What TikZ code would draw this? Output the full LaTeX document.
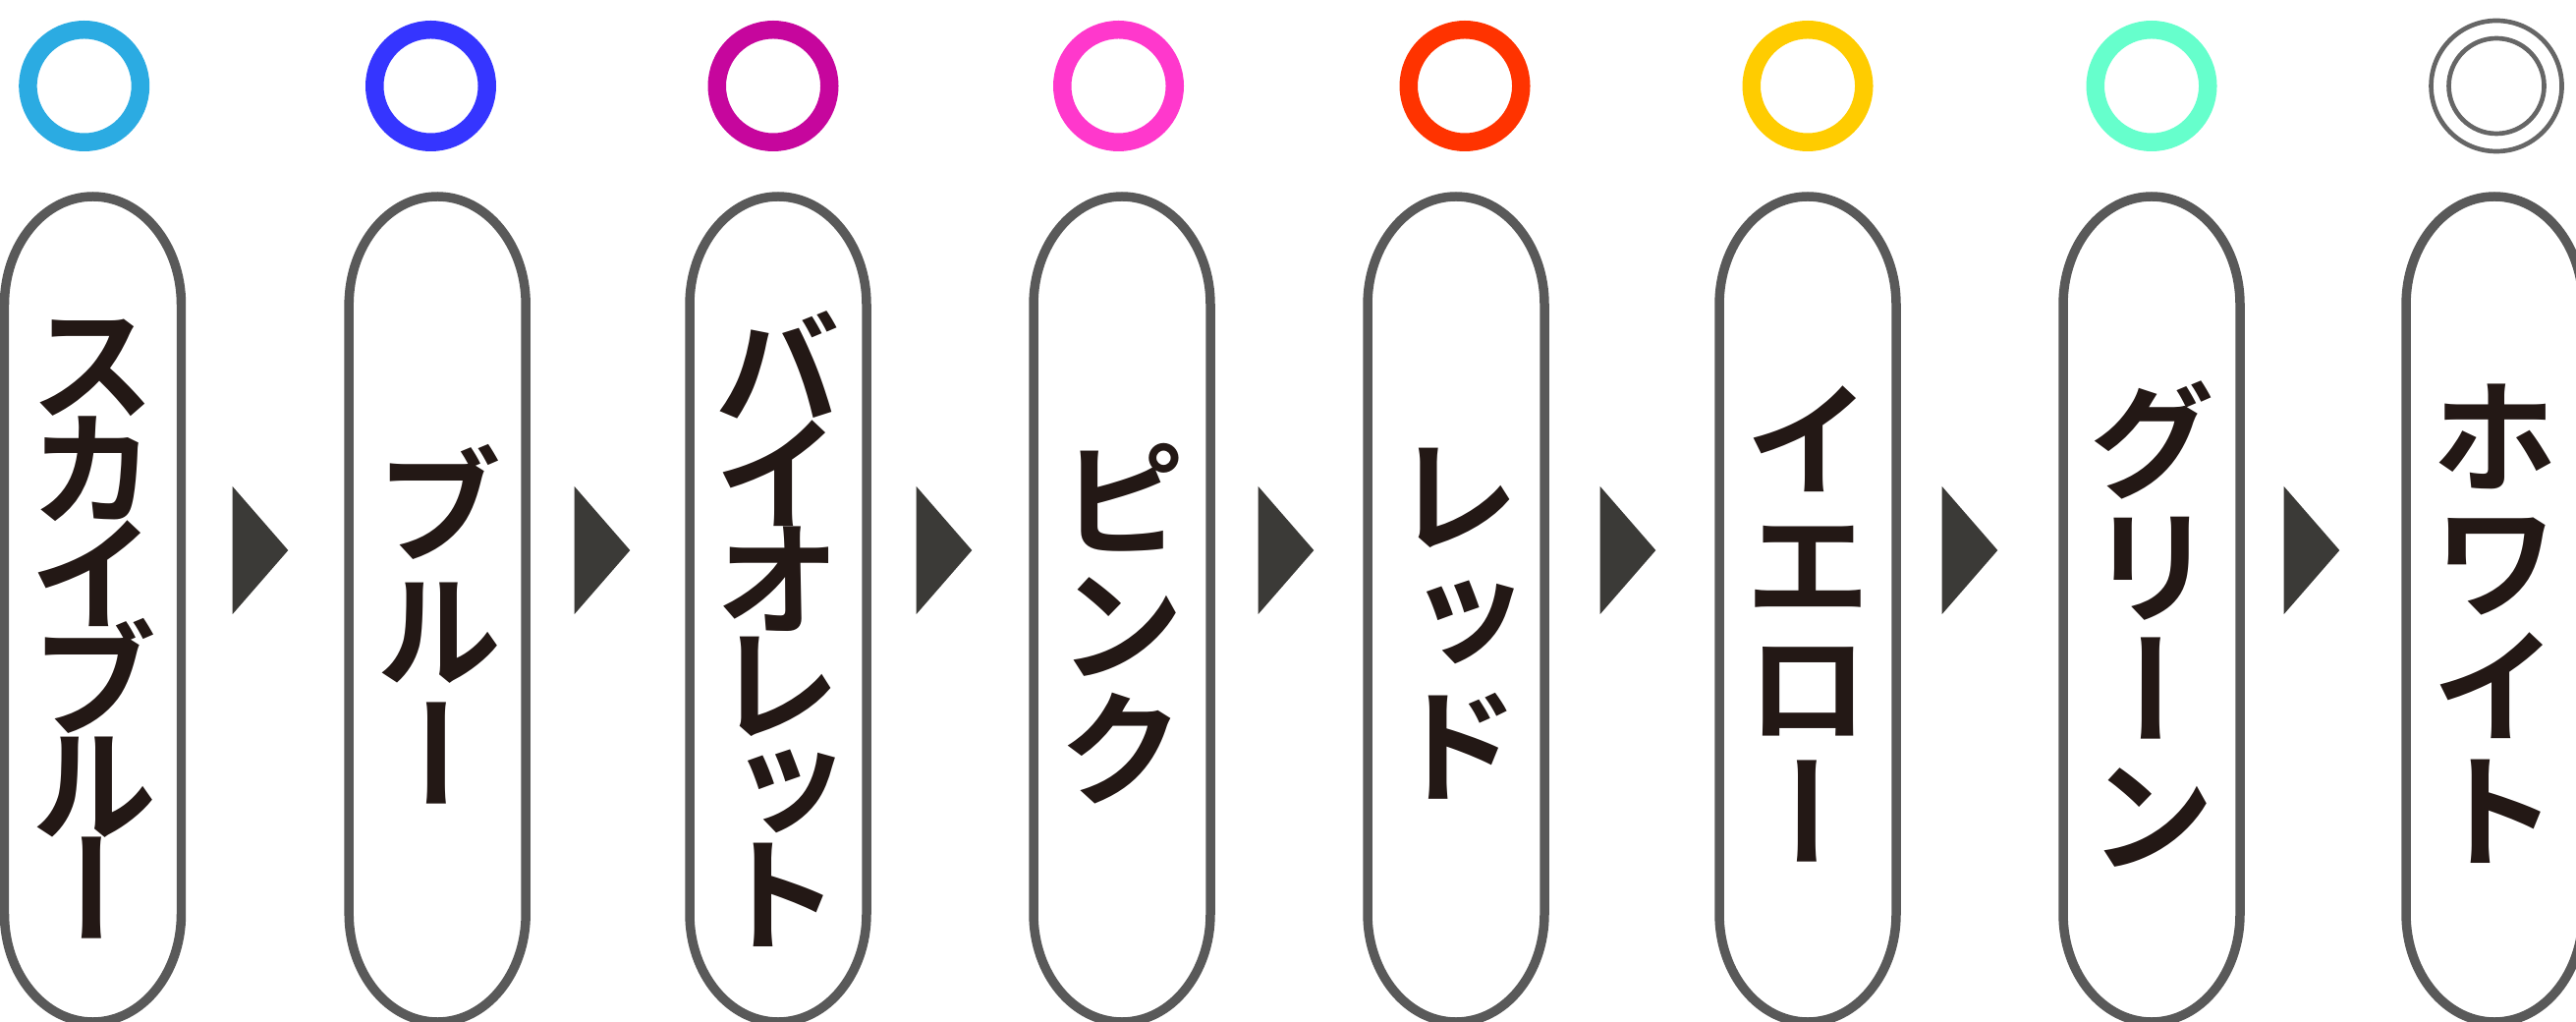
\documentclass[tikz,border=0pt]{standalone}
\usepackage{fontspec}
\newfontfamily\jpfont[RawFeature=+vert, UprightFont=* Bold]{Noto Sans CJK JP}
\newcommand\tatefont[2]{\jpfont\fontsize{#1}{#2}\selectfont\lineskiplimit=-100pt\lineskip=0pt\relax}
\definecolor{skyring}{HTML}{2BABE2}
\definecolor{bluering}{HTML}{3535FF}
\definecolor{violetring}{HTML}{C6069D}
\definecolor{pinkring}{HTML}{FF38CC}
\definecolor{redring}{HTML}{FF3300}
\definecolor{yellowring}{HTML}{FFCC00}
\definecolor{greenring}{HTML}{66FFCC}
\definecolor{whitering}{HTML}{666666}
\definecolor{capgray}{HTML}{595959}
\definecolor{markgray}{HTML}{3B3A37}
\definecolor{inkblack}{HTML}{231815}
\tikzset{
	ring/.style={line width=5.26pt},
	thinring/.style={draw=whitering, line width=1.33pt},
	capsule/.style={draw=capgray, line width=2.7pt},
	marker/.style={fill=markgray},
	tate/.style={text=inkblack, align=center, inner sep=0pt,
		font={\tatefont{37pt}{36.1pt}}},
	tatesix/.style={tate, font={\tatefont{37pt}{30.4pt}}}
}
\begin{document}
\begin{tikzpicture}
		\useasboundingbox (0,0) rectangle (26.22,10.39);
		\def\ry{9.515}
		\def\hw{0.9}
		\def\capr{1.1}
		
		% Кольца
		\draw[ring, skyring] (0.857,\ry) circle (0.5725);
		\draw[ring, bluering] (4.385,\ry) circle (0.5725);
		\draw[ring, violetring] (7.87,\ry) circle (0.5725);
		\draw[ring, pinkring] (11.385,\ry) circle (0.5725);
		\draw[ring, redring] (14.91,\ry) circle (0.5725);
		\draw[ring, yellowring] (18.40,\ry) circle (0.5725);
		\draw[ring, greenring] (21.90,\ry) circle (0.5725);
		\draw[thinring] (25.41,\ry) circle (0.665);
		\draw[thinring] (25.41,\ry) circle (0.485);
		
		% Капсулы
		\foreach \xc in {0.945,4.452,7.92,11.42,14.82,18.40,21.90,25.39}
			\draw[capsule] (\xc-\hw,7.29) -- (\xc-\hw,1.09)
				arc[start angle=180, end angle=360, x radius=\hw, y radius=\capr]
				-- (\xc+\hw,7.29)
				arc[start angle=0, end angle=180, x radius=\hw, y radius=\capr] -- cycle;
		
		% Надписи
		\node[tatesix] (skyblue) at (0.945,3.99) {ス\\カ\\イ\\ブ\\ル\\ー};
		\node[tate] (blue) at (4.452,4.04) {ブ\\ル\\ー};
		\node[tatesix] (violet) at (7.92,3.99) {バ\\イ\\オ\\レ\\ッ\\ト};
		\node[tate] (pink) at (11.42,4.04) {ピ\\ン\\ク};
		\node[tate] (red) at (14.82,4.04) {レ\\ッ\\ド};
		\node[tate] (yellow) at (18.40,4.04) {イ\\エ\\ロ\\ー};
		\node[tate] (green) at (21.90,4.04) {グ\\リ\\ー\\ン};
		\node[tate] (white) at (25.39,4.04) {ホ\\ワ\\イ\\ト};
		
		% Треугольники
		\foreach \xt in {2.367,5.847,9.327,12.807,16.287,19.767,23.247}
			\fill[marker] (\xt,5.44) -- (\xt+0.566,4.79) -- (\xt,4.14) -- cycle;
	\end{tikzpicture}
\end{document}
